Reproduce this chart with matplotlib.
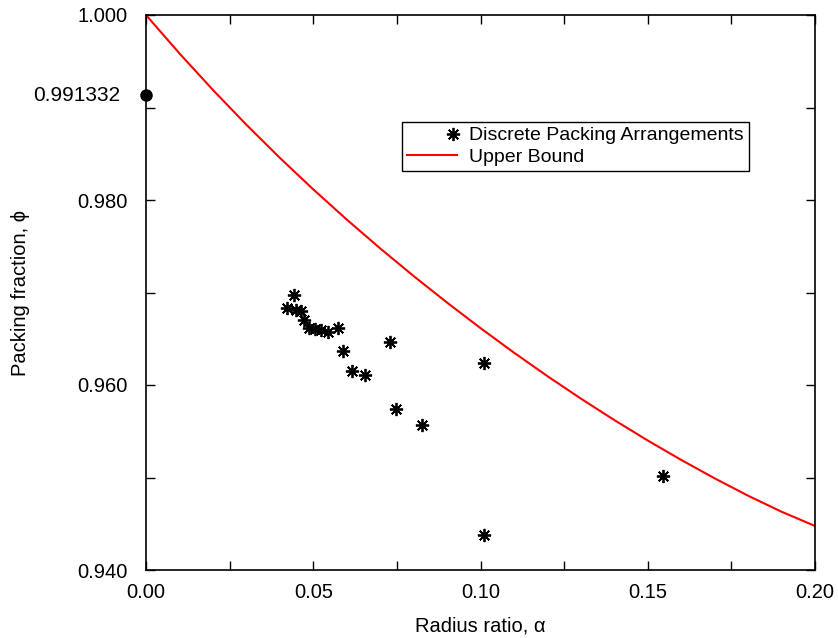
import matplotlib
matplotlib.use("Agg")
import matplotlib.pyplot as plt
from matplotlib.transforms import blended_transform_factory
from matplotlib.legend_handler import HandlerLine2D

plt.rcParams['font.family'] = ['Liberation Sans', 'DejaVu Sans']

# Discrete packing arrangements (radius ratio, packing fraction)
disc_x = [0.0423, 0.0441, 0.0448, 0.0463, 0.0471, 0.0487, 0.0504, 0.0522, 0.0544,
          0.0574, 0.0590, 0.0616, 0.0656, 0.0729, 0.0747, 0.0824, 0.1010, 0.1010, 0.1547]
disc_y = [0.9683, 0.9697, 0.9681, 0.9680, 0.9670, 0.9662, 0.9661, 0.9659, 0.9657,
          0.9662, 0.9637, 0.9615, 0.9611, 0.9646, 0.9574, 0.9557, 0.9624, 0.9438, 0.9502]

# Upper bound curve
ub_x = [0.00, 0.01, 0.02, 0.03, 0.04, 0.05, 0.06, 0.07, 0.08, 0.09, 0.10,
        0.11, 0.12, 0.13, 0.14, 0.15, 0.16, 0.17, 0.18, 0.19, 0.20]
ub_y = [1.00000, 0.99585, 0.99190, 0.98814, 0.98456, 0.98115, 0.97789, 0.97477, 0.97178,
        0.96891, 0.96615, 0.96350, 0.96096, 0.95853, 0.95621, 0.95400, 0.95190, 0.94991,
        0.94803, 0.94630, 0.94476]

# Special point
special_x = [0.0]
special_y = [0.991332]

xticks = [0.00, 0.05, 0.10, 0.15, 0.20]
xtick_labels = ["0.00", "0.05", "0.10", "0.15", "0.20"]
xminor = [0.025, 0.075, 0.125, 0.175]
yticks = [0.940, 0.960, 0.980, 1.000]
ytick_labels = ["0.940", "0.960", "0.980", "1.000"]
yminor = [0.950, 0.970, 0.990]


class RightMarkerHandler(HandlerLine2D):
    def get_xdata(self, legend, xdescent, ydescent, width, height, fontsize):
        xr = -xdescent + width - 3
        return [xr, xr], [xr]


fig = plt.figure(figsize=(8.38, 6.38), dpi=100)
ax = fig.add_axes([146/838, 1-570/638, (815-146)/838, (570-15)/638])

ast = (8, 2, 0)
pts, = ax.plot(disc_x, disc_y, linestyle='none', marker=ast, markersize=9.5, markeredgewidth=1.3,
               color='black', label='Discrete Packing Arrangements')
ax.plot(ub_x, ub_y, color='#ff0000', linewidth=1.5, label='Upper Bound')
ax.plot(special_x, special_y, linestyle='none', marker='o', markersize=8, color='black',
        clip_on=False, zorder=5)

ax.set_xlim(0, 0.2)
ax.set_ylim(0.94, 1.0)
ax.set_xticks(xticks)
ax.set_xticklabels(xtick_labels)
ax.set_xticks(xminor, minor=True)
ax.set_yticks(yticks)
ax.set_yticklabels(ytick_labels)
ax.set_yticks(yminor, minor=True)

ax.tick_params(which='both', direction='in', top=True, right=True, length=6.5, width=1,
               labelsize=14.5)
ax.tick_params(axis='x', which='major', pad=9)
ax.tick_params(axis='y', which='major', pad=13)
for s in ax.spines.values():
    s.set_linewidth(1.2)

trans = blended_transform_factory(ax.transAxes, ax.transData)
ax.annotate("0.991332", xy=(0, 0.991332), xycoords=trans, xytext=(-18.5, 0),
            textcoords='offset points', ha='right', va='center', fontsize=15)

ax.set_xlabel("Radius ratio, \u03b1", fontsize=14.5, labelpad=11)
ax.set_ylabel("Packing fraction, \u03d5", fontsize=14.5, labelpad=34)

leg = ax.legend(loc='upper left', bbox_to_anchor=(402/838, 1-122/638),
                bbox_transform=fig.transFigure, borderaxespad=0, fontsize=14,
                frameon=True, fancybox=False, edgecolor='black', framealpha=1,
                numpoints=1, handlelength=2.6, handletextpad=0.6, borderpad=0.25,
                labelspacing=0.2, handler_map={pts: RightMarkerHandler()})
leg.get_frame().set_linewidth(1.0)

fig.savefig("out.png", dpi=100)
